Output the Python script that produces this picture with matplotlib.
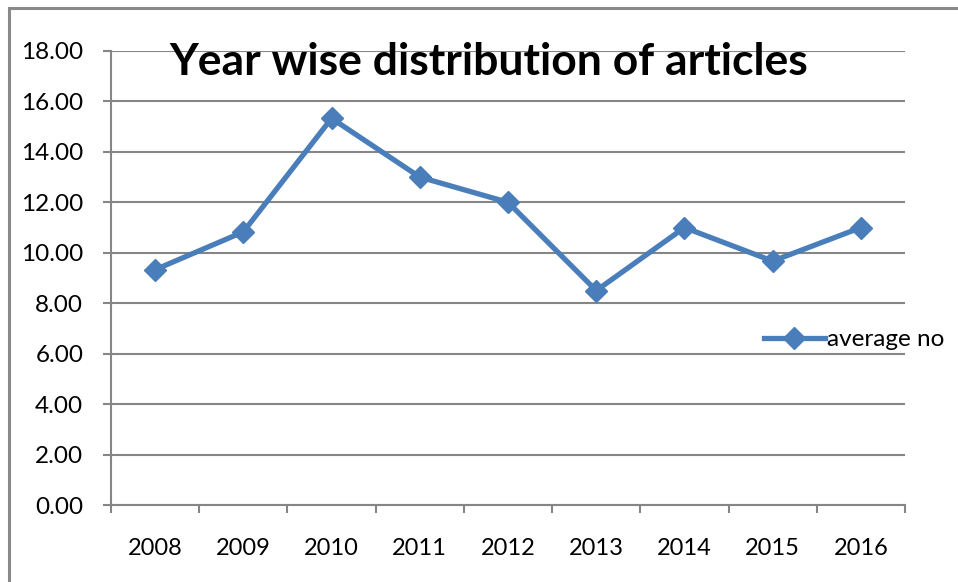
import matplotlib.pyplot as plt
from matplotlib.patches import Rectangle
from matplotlib.ticker import FixedLocator

plt.rcParams['font.family'] = ['Lato', 'DejaVu Sans']

years = ['2008', '2009', '2010', '2011', '2012', '2013', '2014', '2015', '2016']
average_no = [9.33, 10.83, 15.33, 13.00, 12.00, 8.50, 11.00, 9.67, 11.00]
y_ticks = [0, 2, 4, 6, 8, 10, 12, 14, 16, 18]

blue = '#4a7ebb'
grey = '#868686'

fig = plt.figure(figsize=(9.58, 5.82), dpi=100)
ax = fig.add_axes([0.1159, 0.1323, 0.8288, 0.7801])

# chart frame around the whole figure
fig.patches.append(Rectangle((9 / 958, -0.1), 1.2, 1 - 8 / 582 + 0.1,
                             transform=fig.transFigure, fill=False,
                             edgecolor='#898989', linewidth=2.2, zorder=0))

x = list(range(len(years)))
ax.plot(x, average_no, color=blue, linewidth=3.8, marker='D',
        markersize=11, label='average no', zorder=3)

ax.set_xlim(-0.5, len(years) - 0.5)
ax.set_ylim(0, 18)
ax.set_yticks(y_ticks)
ax.set_yticklabels(['%.2f' % v for v in y_ticks])
ax.yaxis.grid(True, color=grey, linewidth=1.5)
ax.set_axisbelow(True)

ax.set_xticks(x)
ax.set_xticklabels(years)
ax.xaxis.set_minor_locator(FixedLocator([i - 0.5 for i in range(len(years) + 1)]))
ax.tick_params(axis='x', which='major', length=0, pad=24, labelsize=17)
ax.tick_params(axis='x', which='minor', length=6, width=1.5, color=grey)
ax.tick_params(axis='y', length=6, width=1.5, color=grey, pad=14, labelsize=17.5)

for side in ['top', 'right']:
    ax.spines[side].set_visible(False)
for side in ['left', 'bottom']:
    ax.spines[side].set_color(grey)
    ax.spines[side].set_linewidth(1.5)

ax.text(0.476, 0.975, 'Year wise distribution of articles', transform=ax.transAxes,
        ha='center', va='center', fontsize=32, fontweight='bold')

ax.legend(loc='center left', bbox_to_anchor=(0.807, 0.364), frameon=False,
          fontsize=17.5, handlelength=2.5, handletextpad=0.1, borderpad=0)

fig.savefig('out.png', dpi=100)
